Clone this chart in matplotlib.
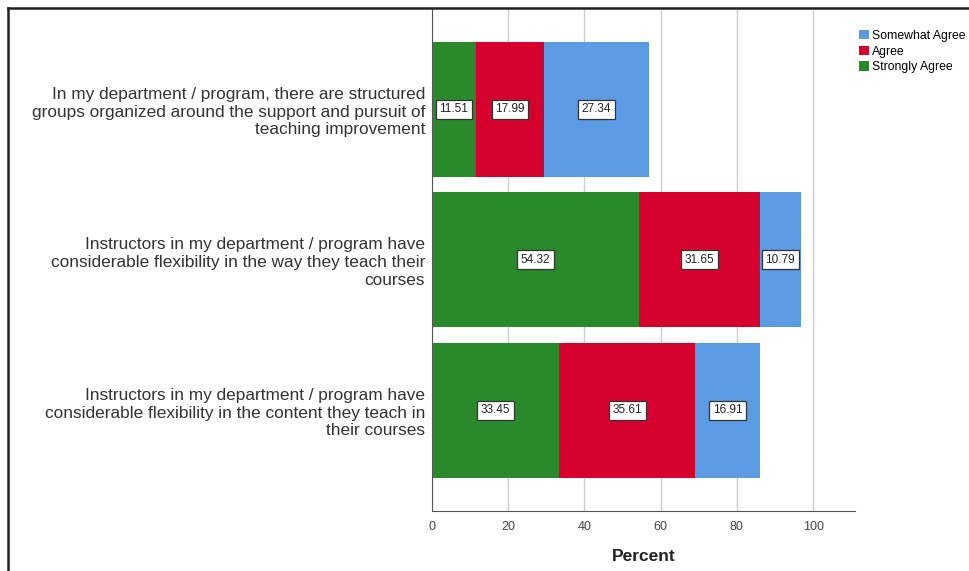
import matplotlib.pyplot as plt
from matplotlib.lines import Line2D
from matplotlib.patches import Patch
import numpy as np

plt.rcParams['font.family'] = ['Liberation Sans', 'DejaVu Sans']

# data (top to bottom)
categories = [
    "In my department / program, there are structured\ngroups organized around the support and pursuit of\nteaching improvement",
    "Instructors in my department / program have\nconsiderable flexibility in the way they teach their\ncourses",
    "Instructors in my department / program have\nconsiderable flexibility in the content they teach in\ntheir courses",
]
strongly_agree = [11.51, 54.32, 33.45]
agree = [17.99, 31.65, 35.61]
somewhat_agree = [27.34, 10.79, 16.91]

series = [("Strongly Agree", strongly_agree, '#2A8A2B'),
          ("Agree", agree, '#D6002F'),
          ("Somewhat Agree", somewhat_agree, '#5A9BE3')]

fig = plt.figure(figsize=(9.69, 5.71), dpi=100)
ax = fig.add_axes([432/969, 1-511/571, (855-432)/969, (511-9)/571])

y = np.arange(len(categories))
left = np.zeros(len(categories))
for name, vals, col in series:
    vals = np.array(vals)
    ax.barh(y, vals, left=left, height=0.9, color=col, zorder=2)
    for yi, l, v in zip(y, left, vals):
        ax.text(l + v/2, yi, f"{v:.2f}", ha='center', va='center', fontsize=8.5,
                color='#222222', zorder=4,
                bbox=dict(boxstyle='square,pad=0.3', fc='white', ec='#333333', lw=0.9))
    left = left + vals

ax.set_xlim(0, 111)
ax.set_ylim(2.67, -0.667)
ax.set_xticks([0, 20, 40, 60, 80, 100])
ax.set_yticks(y)
ax.set_yticklabels(categories, fontsize=12.4, color='#333333', linespacing=1.22)
ax.tick_params(axis='y', length=0, pad=5)
ax.tick_params(axis='x', length=0, labelsize=9, colors='#444444', pad=7)
ax.grid(axis='x', color='#CCCCCC', lw=1, zorder=0)
for s in ['top', 'right']:
    ax.spines[s].set_visible(False)
ax.spines['left'].set_color('#555555')
ax.spines['bottom'].set_color('#555555')
ax.set_xlabel("Percent", fontsize=12.5, fontweight='bold', color='#222222', labelpad=12)

handles = [Patch(facecolor=c, edgecolor='none', label=n) for n, _, c in reversed(series)]
fig.legend(handles=handles, loc='upper left', bbox_to_anchor=(854/969, 1-25/571),
           frameon=False, fontsize=8.8, handlelength=0.8, handleheight=0.8,
           handletextpad=0.3, labelspacing=0.3, borderaxespad=0)

# outer frame (left and top edges)
fig.add_artist(Line2D([8/969, 8/969], [0, 1-8/571], color='#222222', lw=1.8))
fig.add_artist(Line2D([8/969, 1], [1-8/571, 1-8/571], color='#222222', lw=1.8))

fig.savefig("out.png", dpi=100)
